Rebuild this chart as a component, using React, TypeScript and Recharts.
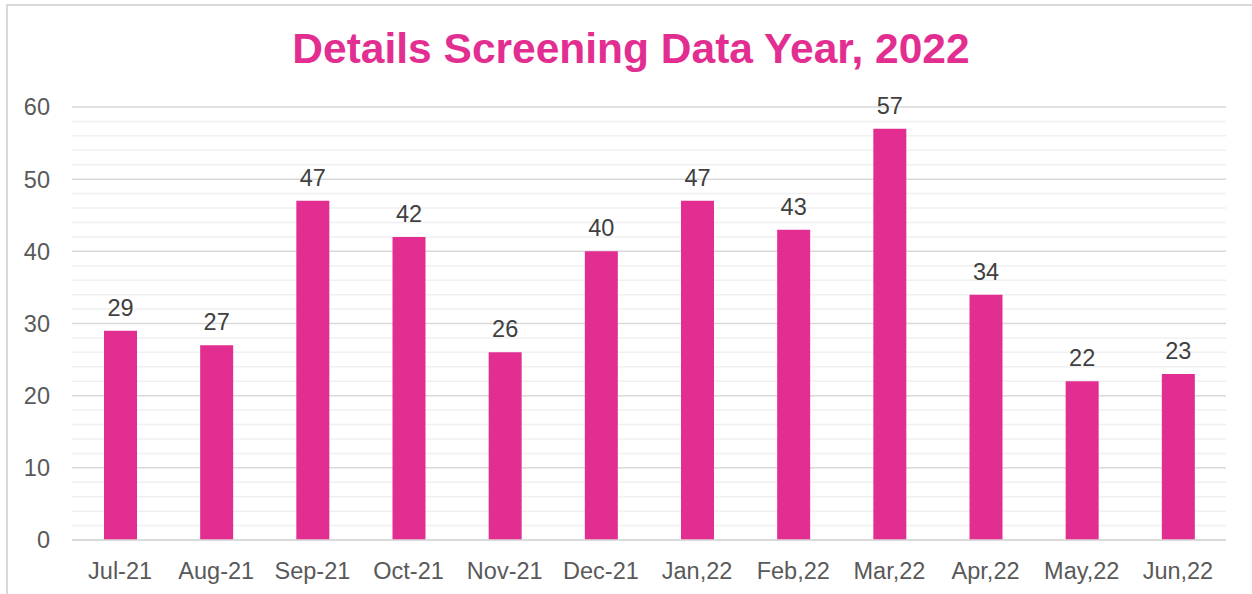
import React from 'react';
import { BarChart, Bar, XAxis, YAxis, CartesianGrid, LabelList } from 'recharts';

const months = ['Jul-21', 'Aug-21', 'Sep-21', 'Oct-21', 'Nov-21', 'Dec-21', 'Jan,22', 'Feb,22', 'Mar,22', 'Apr,22', 'May,22', 'Jun,22'];
const screenings = [29, 27, 47, 42, 26, 40, 47, 43, 57, 34, 22, 23];
const yTicks = [0, 10, 20, 30, 40, 50, 60];
const minorTicks = [2, 4, 6, 8, 12, 14, 16, 18, 22, 24, 26, 28, 32, 34, 36, 38, 42, 44, 46, 48, 52, 54, 56, 58];
const title = 'Details Screening Data Year, 2022';

const data = months.map((m, i) => ({ month: m, value: screenings[i] }));

const PINK = '#E32E91';
const FONT = '"Liberation Sans", Arial, sans-serif';

export default function App() {
  const minorGen = (props: any) => {
    const y = props && props.yAxis;
    if (y && typeof y.scale === 'function') {
      return minorTicks.map((v) => y.scale(v));
    }
    const off = props.offset;
    return minorTicks.map((v) => off.top + off.height * (1 - v / 60));
  };
  return (
    <div style={{ position: 'absolute', left: 0, top: 0, width: 1252, height: 594, background: '#fff', overflow: 'hidden', fontFamily: FONT }}>
      <div style={{ position: 'absolute', left: 6, top: 4, width: 1300, height: 700, border: '2px solid #d9d9d9', boxSizing: 'border-box' }} />
      <div style={{ position: 'absolute', left: 0, width: 1262, top: 24, textAlign: 'center', fontSize: 42.5, fontWeight: 700, color: PINK, lineHeight: '50px', fontFamily: FONT }}>
        {title}
      </div>
      <div style={{ position: 'absolute', left: 0, top: 0 }}>
        <BarChart width={1252} height={594} data={data} margin={{ top: 107, right: 26, bottom: 0, left: 0 }} barCategoryGap="0%">
          <CartesianGrid vertical={false} stroke="#f0f0f0" strokeWidth={1.5} horizontalCoordinatesGenerator={minorGen} syncWithTicks={false} />
          <CartesianGrid vertical={false} stroke="#d9d9d9" strokeWidth={1.5} />
          <XAxis dataKey="month" height={54} axisLine={{ stroke: '#d9d9d9', strokeWidth: 1.5 }} tickLine={false} tickMargin={16}
            tick={{ fill: '#595959', fontSize: 23.5, fontFamily: FONT }} interval={0} />
          <YAxis width={72} domain={[0, 60]} ticks={yTicks} axisLine={false} tickLine={false} tickMargin={16}
            tick={{ fill: '#595959', fontSize: 23.5, fontFamily: FONT }} />
          <Bar dataKey="value" fill={PINK} barSize={33} isAnimationActive={false}>
            <LabelList dataKey="value" position="top" offset={15} fill="#404040" fontSize={23.5} fontFamily={FONT} />
          </Bar>
        </BarChart>
      </div>
    </div>
  );
}
